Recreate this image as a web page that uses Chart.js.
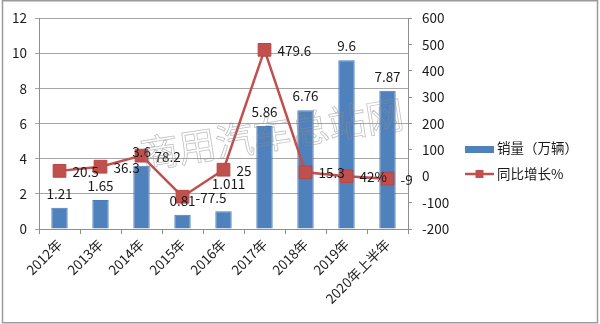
<!DOCTYPE html>
<html>
<head>
<meta charset="utf-8">
<script src="https://cdn.jsdelivr.net/npm/chart.js@4/dist/chart.umd.min.js"></script>
<style>
  html, body { margin: 0; padding: 0; background: #fff; }
  #wrap { width: 600px; height: 324px; }
</style>
</head>
<body>
<div id="wrap"><canvas id="salesChart" width="600" height="324"></canvas></div>
<script>
const years = ["2012年", "2013年", "2014年", "2015年", "2016年", "2017年", "2018年", "2019年", "2020年上半年"];
const salesWan = [1.21, 1.65, 3.6, 0.81, 1.011, 5.86, 6.76, 9.6, 7.87];
const yoyGrowth = [20.5, 36.3, 78.2, -77.5, 25, 479.6, 15.3, 0.42, -9];
// cells shown in percent format
const percentCells = [7];

const salesTicks = { min: 0, max: 12, step: 2 };
const growthTicks = { min: -200, max: 600, step: 100 };

const FONT = "'Noto Sans CJK SC', 'Noto Sans', sans-serif";
const TEXT = "#1a1a1a";
const BLUE = "#4F81BD";
const RED = "#C0504D";

// hand-moved bar labels (index -> pixel nudge)
const barLabelNudge = { 4: [5, -13] };

function growthLabel(i) {
  const v = yoyGrowth[i];
  return percentCells.includes(i) ? Math.round(v * 100) + "%" : String(v);
}

const overlay = {
  id: "overlay",
  afterDatasetsDraw(chart) {
    const ctx = chart.ctx;
    ctx.save();
    ctx.font = "13.5px " + FONT;
    ctx.fillStyle = TEXT;
    ctx.textBaseline = "middle";

    // line values, right of each marker
    ctx.textAlign = "left";
    chart.getDatasetMeta(0).data.forEach((pt, i) => {
      ctx.fillText(growthLabel(i), pt.x + 13, pt.y + 1);
    });

    // bar values, above each bar
    ctx.textAlign = "center";
    chart.getDatasetMeta(1).data.forEach((bar, i) => {
      const [dx, dy] = barLabelNudge[i] || [0, 0];
      ctx.fillText(String(salesWan[i]), bar.x + dx, bar.y - 14 + dy);
    });

    // watermark
    ctx.translate(272, 134);
    ctx.rotate(-9 * Math.PI / 180);
    ctx.font = "38px " + FONT;
    ctx.strokeStyle = "rgba(140,140,140,0.55)";
    ctx.lineWidth = 0.8;
    ctx.strokeText("商用汽车总站网", 0, 0);
    ctx.restore();
  },
  afterDraw(chart) {
    const ctx = chart.ctx;
    ctx.save();
    // legend
    ctx.font = "13.5px " + FONT;
    ctx.textBaseline = "middle";
    ctx.textAlign = "left";
    ctx.fillStyle = BLUE;
    ctx.fillRect(465, 146, 29, 7);
    ctx.fillStyle = TEXT;
    ctx.fillText("销量（万辆）", 497, 148);

    ctx.strokeStyle = RED;
    ctx.lineWidth = 2.5;
    ctx.beginPath();
    ctx.moveTo(465, 174);
    ctx.lineTo(494, 174);
    ctx.stroke();
    ctx.fillStyle = RED;
    ctx.fillRect(475.5, 170, 8, 8);
    ctx.fillStyle = TEXT;
    ctx.fillText("同比增长%", 497, 174);

    // outer frame
    ctx.strokeStyle = "#9a9a9a";
    ctx.lineWidth = 1.5;
    ctx.strokeRect(2.5, 0.75, 595, 322);
    ctx.restore();
  }
};

new Chart(document.getElementById("salesChart"), {
  data: {
    labels: years,
    datasets: [
      {
        type: "line",
        label: "同比增长%",
        data: yoyGrowth,
        yAxisID: "y1",
        borderColor: RED,
        borderWidth: 2.5,
        pointStyle: "rect",
        pointRadius: 9,
        pointBackgroundColor: RED,
        pointBorderColor: "#B94744",
        pointBorderWidth: 1,
        tension: 0,
        order: 0
      },
      {
        type: "bar",
        label: "销量（万辆）",
        data: salesWan,
        yAxisID: "y",
        backgroundColor: BLUE,
        borderColor: "#4A7EBB",
        borderWidth: 1,
        barPercentage: 0.4,
        categoryPercentage: 1,
        order: 1
      }
    ]
  },
  options: {
    responsive: false,
    animation: false,
    layout: { padding: { top: 17, left: 0, right: 0, bottom: 0 } },
    plugins: { legend: { display: false }, tooltip: { enabled: false } },
    scales: {
      x: {
        offset: true,
        grid: { drawOnChartArea: false, tickLength: 5, color: "#8e8e8e", offset: true },
        border: { color: "#8e8e8e" },
        ticks: { minRotation: 45, maxRotation: 45, padding: 2, color: TEXT, font: { family: FONT, size: 13.5 } },
        afterFit: s => { s.height = 95; }
      },
      y: {
        position: "left",
        min: salesTicks.min,
        max: salesTicks.max,
        ticks: { stepSize: salesTicks.step, padding: 8, color: TEXT, font: { family: FONT, size: 13.5 } },
        grid: { color: "#a6a6a6", tickLength: 4 },
        border: { color: "#8e8e8e" },
        afterFit: s => { s.width = 39; }
      },
      y1: {
        position: "right",
        min: growthTicks.min,
        max: growthTicks.max,
        ticks: { stepSize: growthTicks.step, padding: 10, color: TEXT, font: { family: FONT, size: 13.5 } },
        grid: { drawOnChartArea: false, tickLength: 4, color: "#8e8e8e" },
        border: { color: "#8e8e8e" },
        afterFit: s => { s.width = 192; }
      }
    }
  },
  plugins: [overlay]
});
</script>
</body>
</html>
